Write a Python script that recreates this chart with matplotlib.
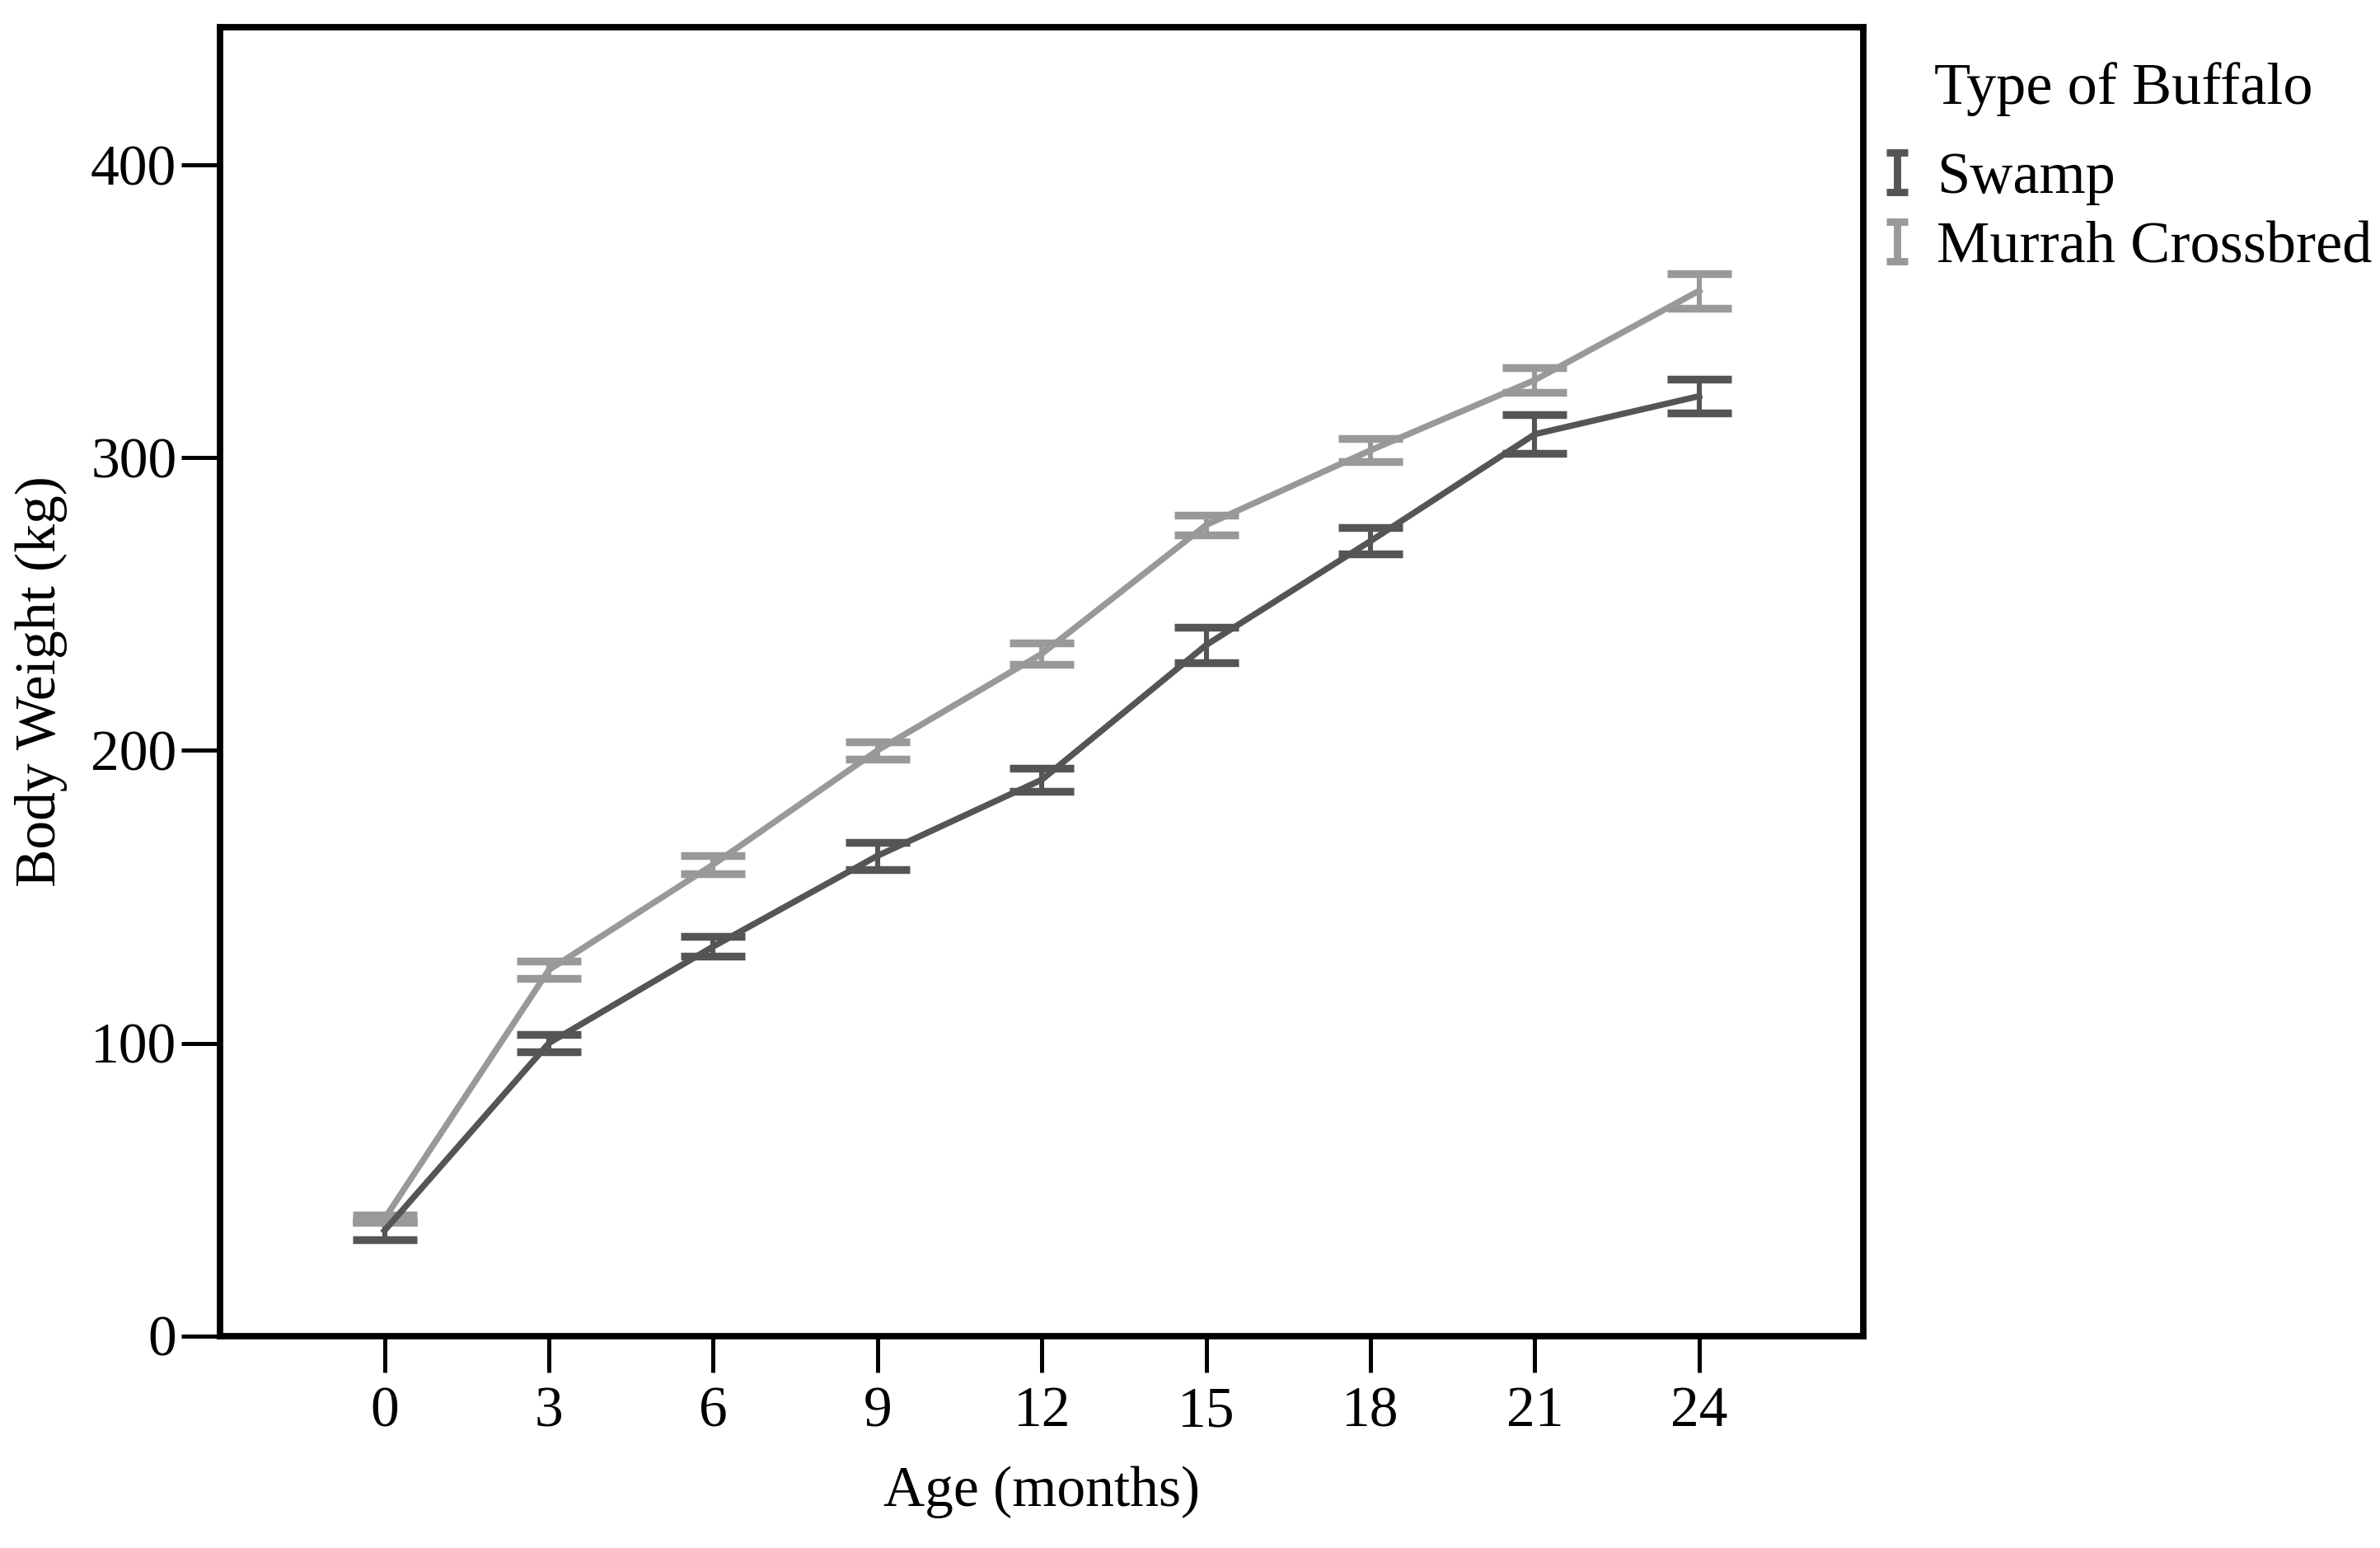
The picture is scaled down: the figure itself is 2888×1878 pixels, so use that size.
import numpy as np
import matplotlib
matplotlib.use("Agg")
import matplotlib.pyplot as plt
from matplotlib.lines import Line2D
from matplotlib.path import Path

plt.rcParams.update({
    "font.family": ["Liberation Serif", "DejaVu Serif"],
    "font.size": 25,
})

age = [0, 3, 6, 9, 12, 15, 18, 21, 24]
swamp_mean = [36, 100, 133, 164, 190, 236, 271.5, 308, 321]
swamp_err = [3, 3, 3.4, 4.7, 4, 6, 4.5, 6.6, 5.7]
murrah_mean = [40, 125, 161, 200, 233, 277, 302.5, 326.5, 357]
murrah_err = [1.2, 3, 3, 2.9, 3.6, 3.4, 4, 4.3, 5.9]

series = ["Swamp", "Murrah Crossbred"]
colors = ["#555555", "#999999"]

fig = plt.figure(figsize=(14.44, 9.39), dpi=200)
ax = fig.add_axes([0.0925, 0.137, 0.6905, 0.8454])

for mean, err, col in zip([swamp_mean, murrah_mean], [swamp_err, murrah_err], colors):
    ax.errorbar(age, mean, yerr=err, color=col, lw=2.7, elinewidth=2.2,
                capsize=14, capthick=3.4)

ax.set_xlim(-3, 27)
ax.set_ylim(0, 447)
ax.set_xticks(age)
ax.set_yticks([0, 100, 200, 300, 400])
for s in ax.spines.values():
    s.set_linewidth(2.8)
ax.tick_params(axis="x", length=16, width=1.8, pad=6)
ax.tick_params(axis="y", length=17, width=1.8, pad=2)
ax.set_xlabel("Age (months)", labelpad=12)
ax.set_ylabel("Body Weight (kg)", labelpad=10)

# "I"-shaped legend icons
ibeam = Path([(-0.55, 1), (0.55, 1), (0, 1), (0, -1), (-0.55, -1), (0.55, -1)],
             [Path.MOVETO, Path.LINETO, Path.MOVETO, Path.LINETO,
              Path.MOVETO, Path.LINETO])
handles = [Line2D([], [], ls="none", marker=ibeam, markersize=17,
                  markeredgewidth=3.2, color=c) for c in colors]
ax.legend(handles, series, loc="upper left", bbox_to_anchor=(1.0025, 0.905),
          frameon=False, handlelength=1.0, handletextpad=0.16,
          labelspacing=0.25, borderpad=0, borderaxespad=0, fontsize=26)
ax.text(1.043, 0.9525, "Type of Buffalo", transform=ax.transAxes,
        ha="left", va="center", fontsize=26)

fig.savefig("out.png", dpi=200)
